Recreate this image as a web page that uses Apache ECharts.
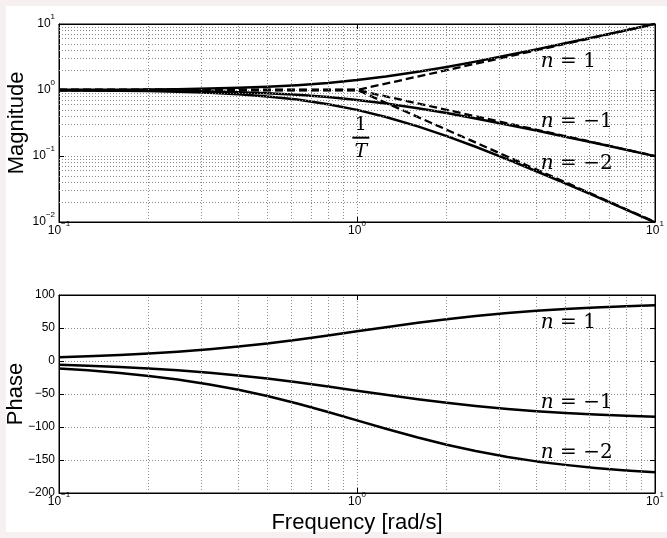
<!DOCTYPE html>
<html><head><meta charset="utf-8">
<script src="https://cdn.jsdelivr.net/npm/echarts@6/dist/echarts.min.js"></script>
<style>html,body{margin:0;padding:0;background:#f6f0f0}#c{width:667px;height:538px}</style>
</head><body><div id="c"></div>
<script>
// ---- data ----
const freq     = [0.1,0.125,0.16,0.2,0.25,0.32,0.4,0.5,0.63,0.8,1,1.25,1.6,2,2.5,3.2,4,5,6.3,8,10];
const magN1    = [1.005,1.008,1.013,1.02,1.031,1.05,1.077,1.118,1.182,1.281,1.414,1.601,1.887,2.236,2.693,3.353,4.123,5.099,6.379,8.062,10.05];
const magNm1   = [0.995,0.992,0.987,0.981,0.970,0.952,0.928,0.894,0.846,0.781,0.707,0.625,0.530,0.447,0.371,0.298,0.243,0.196,0.157,0.124,0.0995];
const magNm2   = [0.990,0.985,0.975,0.962,0.941,0.907,0.862,0.800,0.716,0.610,0.500,0.390,0.281,0.200,0.138,0.089,0.0588,0.0385,0.0246,0.0154,0.0099];
const phaseN1  = [5.7,7.1,9.1,11.3,14.0,17.7,21.8,26.6,32.2,38.7,45.0,51.3,58.0,63.4,68.2,72.6,76.0,78.7,81.0,82.9,84.3];
const phaseNm1 = [-5.7,-7.1,-9.1,-11.3,-14.0,-17.7,-21.8,-26.6,-32.2,-38.7,-45.0,-51.3,-58.0,-63.4,-68.2,-72.6,-76.0,-78.7,-81.0,-82.9,-84.3];
const phaseNm2 = [-11.4,-14.2,-18.2,-22.6,-28.1,-35.5,-43.6,-53.1,-64.4,-77.3,-90.0,-102.7,-116.0,-126.9,-136.4,-145.3,-152.1,-157.4,-162.0,-165.8,-168.6];
const asymFreq = [0.1, 1, 10];
const asymN1   = [1, 1, 10];
const asymNm1  = [1, 1, 0.1];
const asymNm2  = [1, 1, 0.01];
// tick / grid values
const decadeValues = [0.01, 0.1, 1, 10];
const decadeExps   = ['\u22122', '\u22121', '0', '1'];
const minorFreq = [0.2,0.3,0.4,0.5,0.6,0.7,0.8,0.9,2,3,4,5,6,7,8,9];
const minorMag  = [0.02,0.03,0.04,0.05,0.06,0.07,0.08,0.09,0.2,0.3,0.4,0.5,0.6,0.7,0.8,0.9,2,3,4,5,6,7,8,9];
const phaseMin = -200, phaseMax = 100, phaseStep = 50;
// annotations (text, freq, value)
const magLabels   = [['1', 4.14, 2.65], ['\u22121', 4.14, 0.327], ['\u22122', 4.14, 0.0757]];
const phaseLabels = [['1', 4.14, 57.6], ['\u22121', 4.14, -63.6], ['\u22122', 4.14, -139.4]];
const fracLabel   = [1.03, 0.183];

// ---- chart ----
const zip = (xs, ys) => xs.map((x, i) => [x, ys[i]]);
const FONT = 'Liberation Sans';
const gridColor = '#8a8a8a';
function decadeLabel(v) {
  const i = decadeValues.findIndex(d => Math.abs(d - v) / d < 1e-6);
  return i < 0 ? '' : '{b|10}{s|' + decadeExps[i] + '}';
}
const supRich = {
  b: { fontFamily: FONT, fontSize: 12, color: '#000', lineHeight: 22 },
  s: { fontFamily: FONT, fontSize: 8, color: '#000', verticalAlign: 'top' }
};
const mathRich = {
  i: { fontFamily: 'DejaVu Serif', fontStyle: 'italic', fontSize: 20, color: '#000' },
  r: { fontFamily: 'DejaVu Serif', fontSize: 20, color: '#000' }
};
const dotted = { color: gridColor, width: 1, type: [1, 2] };
const axLine = { show: true, onZero: false, lineStyle: { color: '#000', width: 1 } };
const tickIn = { show: true, inside: true, length: 5, lineStyle: { color: '#000' } };
const nameStyle = { fontFamily: FONT, fontSize: 22, color: '#000' };

function logX(grid, pos, main) {
  return {
    type: 'log', logBase: 10, min: 0.1, max: 10, gridIndex: grid, position: pos,
    axisLine: axLine, axisTick: tickIn,
    axisLabel: main ? { show: true, margin: -2, formatter: decadeLabel, rich: supRich } : { show: false },
    splitLine: { show: main, lineStyle: dotted },
    minorTick: { show: false }
  };
}
function solid(data, xi, yi) {
  return { type: 'line', data, xAxisIndex: xi, yAxisIndex: yi, showSymbol: false, smooth: false,
    lineStyle: { color: '#000', width: 2.5, join: 'round' }, z: 4, silent: true };
}
function dashed(data) {
  return { type: 'line', data, xAxisIndex: 0, yAxisIndex: 0, showSymbol: false,
    lineStyle: { color: '#000', width: 2.3, type: [8, 4] }, z: 3, silent: true };
}
function nLabel(t, x, y) {
  return { coord: [x, y], symbol: 'rect', symbolSize: 1, itemStyle: { color: 'rgba(0,0,0,0)' },
    label: { show: true, position: 'inside', align: 'left', verticalAlign: 'middle',
      formatter: '{i|n}{r| = ' + t + '}', rich: mathRich } };
}
function helper(xi, yi, lines, points, anchor) {
  return { type: 'line', xAxisIndex: xi, yAxisIndex: yi, data: [anchor], showSymbol: false,
    lineStyle: { opacity: 0 }, z: 1, silent: true,
    markLine: { silent: true, symbol: 'none', label: { show: false }, lineStyle: dotted, animation: false, data: lines },
    markPoint: { silent: true, animation: false, data: points } };
}

const topLines = minorFreq.map(v => ({ xAxis: v })).concat(minorMag.map(v => ({ yAxis: v })));
const botLines = minorFreq.map(v => ({ xAxis: v }));
const topPoints = magLabels.map(l => nLabel(l[0], l[1], l[2])).concat([{
  coord: fracLabel, symbol: 'rect', symbolSize: 1, itemStyle: { color: 'rgba(0,0,0,0)' },
  label: { show: true, position: 'inside', align: 'center', verticalAlign: 'middle',
    formatter: '{n|1}\n{bar| }\n{d|T}',
    rich: {
      n: { fontFamily: 'DejaVu Serif', fontSize: 19, color: '#000', lineHeight: 20, align: 'center' },
      bar: { width: 17, height: 2, lineHeight: 6, backgroundColor: '#000', fontSize: 2, align: 'center' },
      d: { fontFamily: 'DejaVu Serif', fontStyle: 'italic', fontSize: 19, color: '#000', lineHeight: 22, align: 'center' }
    } }
}]);
const botPoints = phaseLabels.map(l => nLabel(l[0], l[1], l[2]));

const chart = echarts.init(document.getElementById('c'), null, { renderer: 'canvas' });
chart.setOption({
  animation: false,
  backgroundColor: '#f6f0f0',
  graphic: [{ type: 'rect', left: 6, top: 6, shape: { width: 661, height: 526 }, style: { fill: '#fff' }, z: -10, silent: true }],
  grid: [
    { left: 59, top: 24, width: 596, height: 198, show: true, backgroundColor: '#fff', borderColor: '#000', borderWidth: 1, containLabel: false, outerBoundsMode: 'none' },
    { left: 59, top: 295, width: 596, height: 198, show: true, backgroundColor: '#fff', borderColor: '#000', borderWidth: 1, containLabel: false, outerBoundsMode: 'none' }
  ],
  xAxis: [
    logX(0, 'bottom', true), logX(0, 'top', false),
    Object.assign(logX(1, 'bottom', true), { name: 'Frequency [rad/s]', nameLocation: 'middle', nameGap: 19,
      nameMoveOverlap: false, nameTextStyle: nameStyle }),
    logX(1, 'top', false)
  ],
  yAxis: [
    { type: 'log', logBase: 10, min: 0.01, max: 10, gridIndex: 0, position: 'left',
      axisLine: axLine, axisTick: tickIn,
      axisLabel: { margin: 4, formatter: decadeLabel, rich: supRich },
      splitLine: { show: true, lineStyle: dotted },
      name: 'Magnitude', nameLocation: 'middle', nameGap: 31, nameMoveOverlap: false,
      nameTextStyle: nameStyle },
    { type: 'log', logBase: 10, min: 0.01, max: 10, gridIndex: 0, position: 'right',
      axisLine: axLine, axisTick: tickIn, axisLabel: { show: false }, splitLine: { show: false } },
    { type: 'value', min: phaseMin, max: phaseMax, interval: phaseStep, gridIndex: 1, position: 'left',
      axisLine: axLine, axisTick: tickIn,
      axisLabel: { margin: 4, fontFamily: FONT, fontSize: 12, color: '#000',
        formatter: v => v < 0 ? '\u2212' + (-v) : String(v) },
      splitLine: { show: true, lineStyle: dotted },
      name: 'Phase', nameLocation: 'middle', nameGap: 32, nameMoveOverlap: false,
      nameTextStyle: nameStyle },
    { type: 'value', min: phaseMin, max: phaseMax, interval: phaseStep, gridIndex: 1, position: 'right',
      axisLine: axLine, axisTick: tickIn, axisLabel: { show: false }, splitLine: { show: false } }
  ],
  series: [
    helper(0, 0, topLines, topPoints, [1, 1]),
    helper(2, 2, botLines, botPoints, [1, 0]),
    solid(zip(freq, magN1), 0, 0),
    solid(zip(freq, magNm1), 0, 0),
    solid(zip(freq, magNm2), 0, 0),
    dashed(zip(asymFreq, asymN1)),
    dashed(zip(asymFreq, asymNm1)),
    dashed(zip(asymFreq, asymNm2)),
    solid(zip(freq, phaseN1), 2, 2),
    solid(zip(freq, phaseNm1), 2, 2),
    solid(zip(freq, phaseNm2), 2, 2)
  ]
});
</script></body></html>
